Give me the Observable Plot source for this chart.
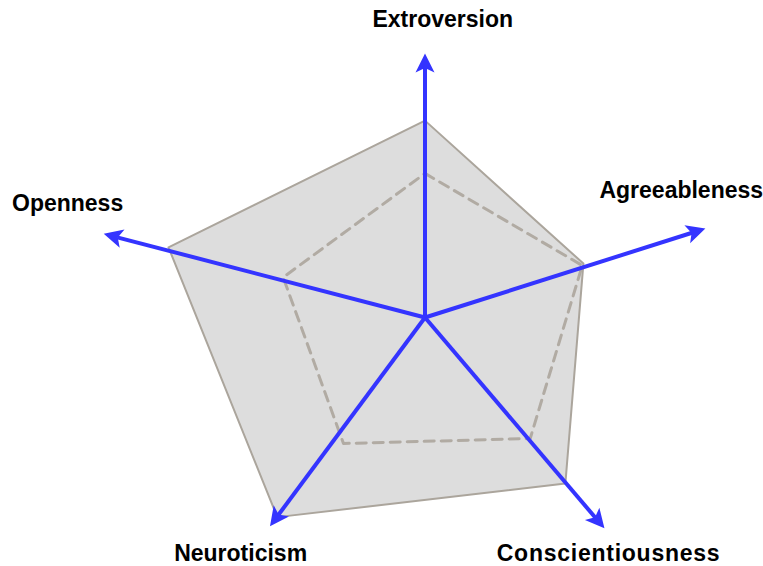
<!DOCTYPE html>
<html>
<head>
<meta charset="utf-8">
<script src="https://cdn.jsdelivr.net/npm/d3@7"></script>
<script src="https://cdn.jsdelivr.net/npm/@observablehq/plot@0.6"></script>
<style>
  html, body { margin: 0; padding: 0; background: #ffffff; }
  #chart svg { display: block; }
</style>
</head>
<body>
<div id="chart"></div>
<script>
// ---- data ----
const traits = ["Extroversion", "Agreeableness", "Conscientiousness", "Neuroticism", "Openness"];
// axis directions (degrees, counter-clockwise from east)
const arrowAngles = [90, 17.6, -49.6, -126.6, 165.4];
const outerAngles = [90, 18.8, -49.8, -126.5, 164.7];
const innerAngles = [90, 18.3, -49.0, -122.9, 164.2];
// series values (radial units)
const outerValues = [5.93, 5.04, 6.55, 7.48, 8.01];
const innerValues = [4.34, 4.99, 4.83, 4.52, 4.44];
const arrowLengths = [7.95, 8.86, 8.34, 7.83, 10.0];
// label placement (angle, radius)
const labelAngles = [86.6, 26.3, -52.1, -128.0, 162.3];
const labelRadii = [8.99, 8.61, 9.00, 9.02, 11.30];

// ---- build tables ----
const rad = (a) => a * Math.PI / 180;
const polar = (r, a) => ({x: r * Math.cos(rad(a)), y: r * Math.sin(rad(a))});

const outer = traits.map((t, i) => ({trait: t, ...polar(outerValues[i], outerAngles[i])}));
const inner = traits.map((t, i) => ({trait: t, ...polar(innerValues[i], innerAngles[i])}));
const headBack = 0.42; // line stops just inside arrowhead
const arrows = traits.map((t, i) => {
  const tip = polar(arrowLengths[i], arrowAngles[i]);
  const end = polar(arrowLengths[i] - headBack, arrowAngles[i]);
  return {trait: t, x1: 0, y1: 0, x2: end.x, y2: end.y, tx: tip.x, ty: tip.y, rotate: 90 - arrowAngles[i]};
});
const labels = traits.map((t, i) => ({trait: t, ...polar(labelRadii[i], labelAngles[i])}));

// arrowhead symbol: tip at origin, pointing up
const arrowHead = {
  draw(context, size) {
    const s = Math.sqrt(size / Math.PI);
    const L = 1.9 * s, w = 0.95 * s, n = 0.45 * s;
    context.moveTo(0, 0);
    context.lineTo(w, L);
    context.lineTo(0, L - n);
    context.lineTo(-w, L);
    context.closePath();
  }
};

const W = 763, H = 566;
const cx = 424.5, cy = 317, unit = 33.2;

const chart = Plot.plot({
  width: W,
  height: H,
  margin: 0,
  style: {background: "#ffffff", overflow: "visible"},
  x: {domain: [-cx / unit, (W - cx) / unit], range: [0, W], axis: null},
  y: {domain: [-(H - cy) / unit, cy / unit], range: [H, 0], axis: null},
  marks: [
    Plot.line(outer, {x: "x", y: "y", curve: "linear-closed", fill: "#dddddd", stroke: "#aba59c", strokeWidth: 2}),
    Plot.line(inner, {x: "x", y: "y", curve: "linear-closed", stroke: "#b1aba3", strokeWidth: 3, strokeDasharray: "10,7"}),
    Plot.link(arrows, {x1: "x1", y1: "y1", x2: "x2", y2: "y2", stroke: "#3434ff", strokeWidth: 4}),
    Plot.dot(arrows, {x: "tx", y: "ty", rotate: "rotate", symbol: arrowHead, r: 10, fill: "#3434ff", stroke: "none"}),
    Plot.text(labels, {x: "x", y: "y", text: "trait", fontSize: 23, fontWeight: "bold", fontFamily: "'Liberation Sans', Arial, sans-serif", fill: "#000000", textAnchor: "middle"})
  ]
});
document.getElementById("chart").appendChild(chart);
// the bottom-right label is set slightly wider in the reference
d3.select(chart).selectAll("text")
  .filter(function () { return this.textContent === "Conscientiousness"; })
  .attr("letter-spacing", "0.75px");
</script>
</body>
</html>
